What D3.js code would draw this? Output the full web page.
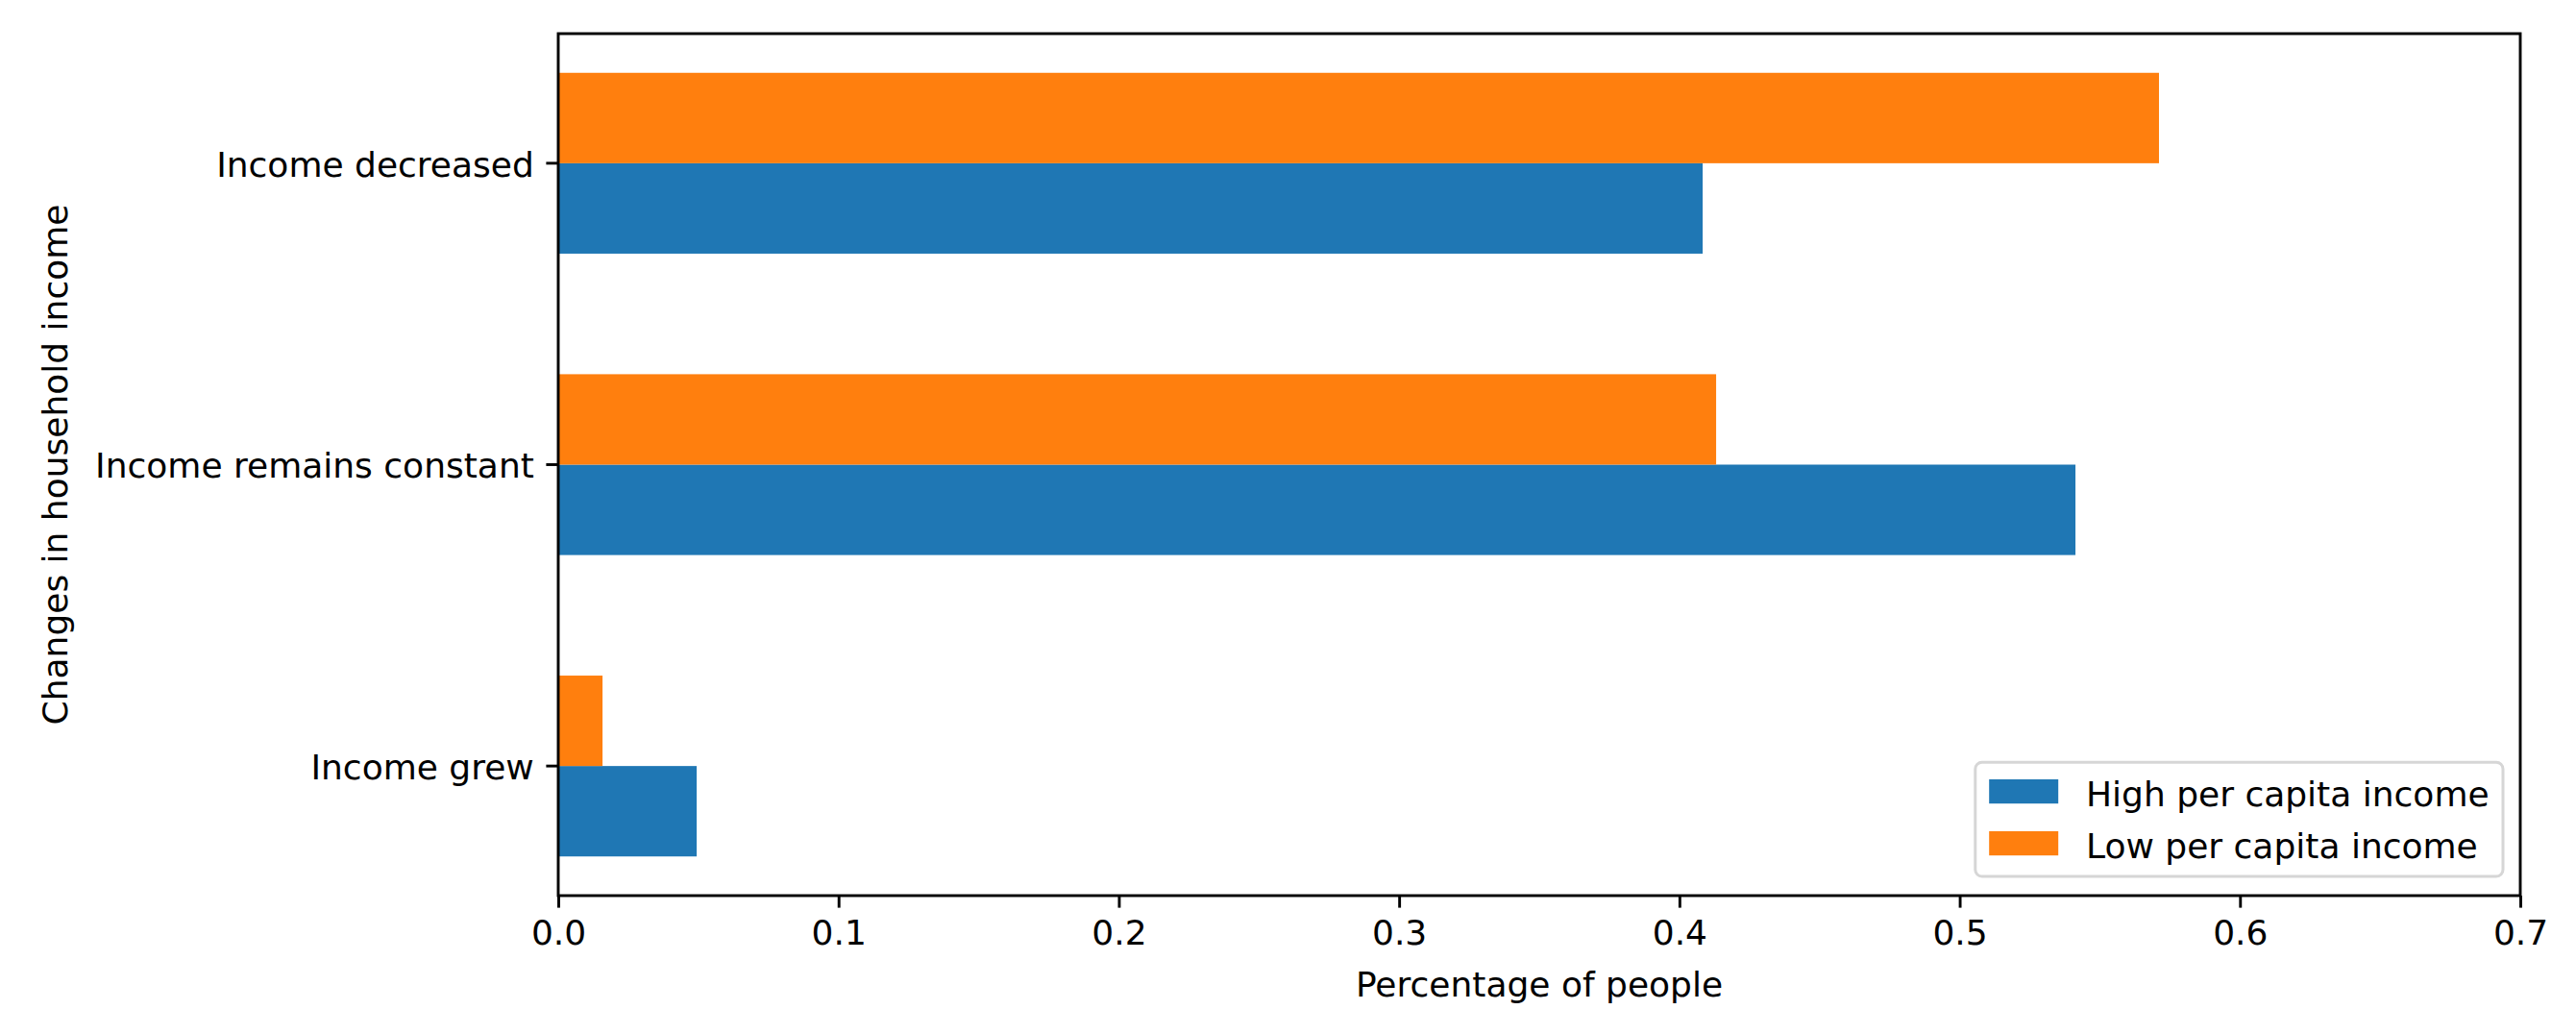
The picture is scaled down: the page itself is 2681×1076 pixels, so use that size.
<!DOCTYPE html>
<html lang="en">
<head>
  <meta charset="UTF-8">
  <title>Changes in household income</title>
  <script src="https://d3js.org/d3.v7.min.js"></script>
  <style>
    body { margin: 0; background: #fff; }
    text { font-family: "DejaVu Sans", sans-serif; fill: #000; }
  </style>
</head>
<body>
  <div id="chart"></div>

  <script>
    // data, bottom to top as in the source table
    const categories = ["Income grew", "Income remains constant", "Income decreased"];
    const seriesNames = ["High per capita income", "Low per capita income"];
    const highIncome = [0.0494, 0.5413, 0.4083];
    const lowIncome = [0.0158, 0.4131, 0.5711];
    const xTicks = [0.0, 0.1, 0.2, 0.3, 0.4, 0.5, 0.6, 0.7];

    const colors = ["#1f77b4", "#ff7f0e"];

    const width = 2681;
    const height = 1076;
    const plot = { left: 581, right: 2623, top: 35, bottom: 932 };
    const fontSize = 36;
    const tick = 12.6;
    const lineW = 2.9;

    const svg = d3.select("#chart")
      .append("svg")
      .attr("width", width)
      .attr("height", height);

    const x = d3.scaleLinear()
      .domain([0, 0.7])
      .range([plot.left, plot.right]);

    // top row is the last category
    const y = d3.scaleBand()
      .domain(categories.slice().reverse())
      .range([plot.top, plot.bottom])
      .paddingInner(0.4)
      .paddingOuter(0.13);

    // orange (low) sits above blue (high) inside each band
    const ySub = d3.scaleBand()
      .domain(["low", "high"])
      .range([0, y.bandwidth()]);

    const rows = categories.map((c, i) => ({ cat: c, high: highIncome[i], low: lowIncome[i] }));

    const groups = svg.selectAll("g.cat")
      .data(rows)
      .enter()
      .append("g")
      .attr("class", "cat")
      .attr("transform", d => "translate(0," + y(d.cat) + ")");

    groups.append("rect")
      .attr("x", x(0))
      .attr("y", ySub("high"))
      .attr("width", d => x(d.high) - x(0))
      .attr("height", ySub.bandwidth())
      .attr("fill", colors[0]);

    groups.append("rect")
      .attr("x", x(0))
      .attr("y", ySub("low"))
      .attr("width", d => x(d.low) - x(0))
      .attr("height", ySub.bandwidth())
      .attr("fill", colors[1]);

    // axes
    const xAxis = svg.append("g")
      .attr("transform", "translate(0," + plot.bottom + ")")
      .call(d3.axisBottom(x)
        .tickValues(xTicks)
        .tickFormat(d3.format(".1f"))
        .tickSizeInner(tick)
        .tickSizeOuter(0)
        .tickPadding(tick));

    const yAxis = svg.append("g")
      .attr("transform", "translate(" + plot.left + ",0)")
      .call(d3.axisLeft(y)
        .tickSizeInner(tick)
        .tickSizeOuter(0)
        .tickPadding(tick));

    [xAxis, yAxis].forEach(a => {
      a.select(".domain").remove();
      a.selectAll(".tick line").attr("stroke", "#000").attr("stroke-width", lineW);
      a.selectAll(".tick text")
        .style("font-family", "'DejaVu Sans', sans-serif")
        .style("font-size", fontSize + "px")
        .attr("fill", "#000");
    });
    yAxis.selectAll(".tick text").attr("dy", "0.38em");

    // frame
    svg.append("rect")
      .attr("x", plot.left)
      .attr("y", plot.top)
      .attr("width", plot.right - plot.left)
      .attr("height", plot.bottom - plot.top)
      .attr("fill", "none")
      .attr("stroke", "#000")
      .attr("stroke-width", lineW);

    // axis titles
    svg.append("text")
      .attr("x", (plot.left + plot.right) / 2)
      .attr("y", 1037)
      .attr("text-anchor", "middle")
      .style("font-size", fontSize + "px")
      .text("Percentage of people");

    svg.append("text")
      .attr("transform", "translate(70," + (plot.top + plot.bottom) / 2 + ") rotate(-90)")
      .attr("text-anchor", "middle")
      .style("font-size", fontSize + "px")
      .text("Changes in household income");

    // legend, lower right
    const pad = 0.4 * fontSize;
    const handleW = 2.0 * fontSize;
    const handleH = 0.7 * fontSize;
    const textGap = 0.8 * fontSize;
    const rowH = fontSize;
    const rowGap = 0.5 * fontSize;
    const legRight = plot.right - 0.5 * fontSize;
    const legBottom = plot.bottom - 20;

    const legend = svg.append("g");
    const frame = legend.append("rect")
      .attr("fill", "#fff")
      .attr("fill-opacity", 0.8)
      .attr("stroke", "#d6d6d6")
      .attr("stroke-width", 3)
      .attr("rx", 7);

    const items = legend.selectAll("g.item")
      .data(seriesNames)
      .enter()
      .append("g")
      .attr("class", "item");

    const labels = items.append("text")
      .style("font-size", fontSize + "px")
      .text(d => d);

    let maxW = 0;
    labels.each(function () { maxW = Math.max(maxW, this.getComputedTextLength()); });

    const legW = pad + handleW + textGap + maxW + pad;
    const legH = pad * 2 + rowH * seriesNames.length + rowGap * (seriesNames.length - 1);
    const legLeft = legRight - legW;
    const legTop = legBottom - legH;

    frame.attr("x", legLeft).attr("y", legTop).attr("width", legW).attr("height", legH);

    items.attr("transform", (d, i) =>
      "translate(" + (legLeft + pad) + "," + (legTop + pad + rowH / 2 + i * (rowH + rowGap)) + ")");

    items.append("rect")
      .attr("x", 0)
      .attr("y", -handleH / 2 - 2)
      .attr("width", handleW)
      .attr("height", handleH)
      .attr("fill", (d, i) => colors[i]);

    labels
      .attr("x", handleW + textGap)
      .attr("y", 0)
      .attr("dy", "0.38em");
  </script>
</body>
</html>
